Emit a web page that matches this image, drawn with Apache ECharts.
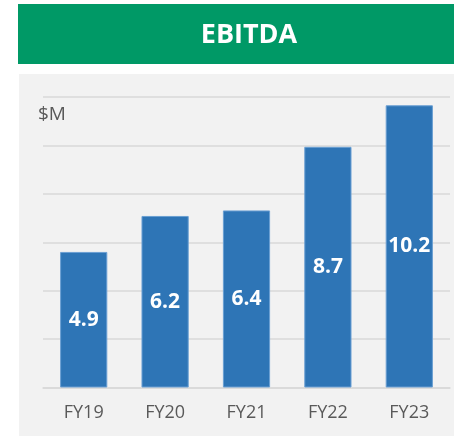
<!DOCTYPE html>
<html>
<head>
<meta charset="UTF-8">
<title>index.html</title>
<style type="text/css">
html, body { margin: 0; padding: 0; background: #ffffff; }
#main { width: 454px; height: 436px; }
</style>
<script type="text/javascript" src="https://cdn.jsdelivr.net/npm/echarts@6/dist/echarts.min.js"></script>
</head>
<body>
  <div id="main"></div>
<script>
  var years = ['FY19', 'FY20', 'FY21', 'FY22', 'FY23'];
  var ebitda = [4.9, 6.2, 6.4, 8.7, 10.2];
  var unitLabel = '$M';
  var titleText = 'EBITDA';

  var myChart = echarts.init(document.getElementById('main'));
  var font = '"Open Sans", "Noto Sans", sans-serif';
  var option = {
    backgroundColor : '#ffffff',
    animation : false,
    graphic : [ {
      type : 'rect',
      shape : { x : 18, y : 4, width : 436, height : 60 },
      style : { fill : '#009966' },
      z : -10
    }, {
      type : 'rect',
      shape : { x : 19, y : 74, width : 435, height : 362 },
      style : { fill : '#f2f2f2' },
      z : -10
    }, {
      type : 'text',
      x : 249, y : 35,
      style : {
        text : titleText,
        fill : '#ffffff',
        font : 'bold 27px ' + font,
        textAlign : 'center',
        textVerticalAlign : 'middle'
      }
    }, {
      type : 'text',
      x : 38, y : 115,
      style : {
        text : unitLabel,
        fill : '#595959',
        font : '19px ' + font,
        textAlign : 'left',
        textVerticalAlign : 'middle'
      }
    } ],
    grid : {
      left : 43,
      right : 4,
      top : 97,
      bottom : 48.5
    },
    xAxis : [ {
      type : 'category',
      data : years,
      axisLine : { lineStyle : { color : '#d9d9d9', width : 1.5 } },
      axisTick : { show : false },
      axisLabel : {
        color : '#595959',
        fontSize : 18,
        fontFamily : font,
        margin : 16
      }
    } ],
    yAxis : [ {
      type : 'value',
      min : 0,
      max : 10.5,
      interval : 1.75,
      axisLabel : { show : false },
      axisLine : { show : false },
      axisTick : { show : false },
      splitLine : { lineStyle : { color : '#d9d9d9', width : 1.5 } }
    } ],
    series : [ {
      name : 'EBITDA',
      type : 'bar',
      data : ebitda,
      barWidth : '58%',
      itemStyle : {
        color : '#2e75b6',
        borderColor : '#6a9fd3',
        borderWidth : 1
      },
      label : {
        show : true,
        position : 'inside',
        color : '#ffffff',
        fontWeight : 'bold',
        fontSize : 21,
        fontFamily : font
      }
    } ]
  };
  myChart.setOption(option);
</script>
</body>
</html>
